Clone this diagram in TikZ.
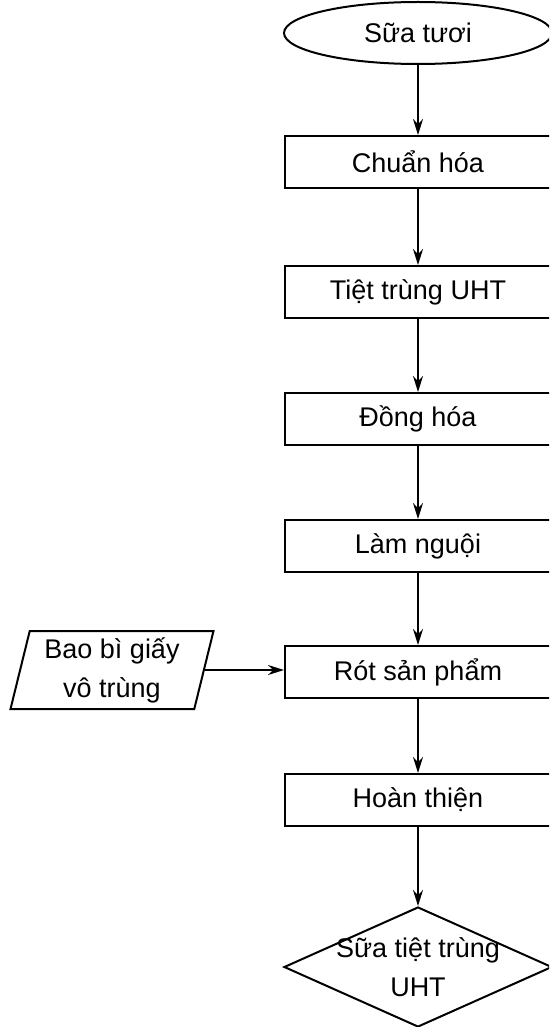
\documentclass[tikz,border=0pt]{standalone}
\usepackage{fontspec}
\setmainfont{Liberation Sans}
\usetikzlibrary{shapes.geometric, arrows.meta}

\begin{document}
\begin{tikzpicture}[x=1pt, y=-1pt,
        font=\fontsize{27}{39}\selectfont,
        stepbox/.style={draw, line width=2pt, minimum width=266pt, minimum height=52pt, inner sep=0pt},
        flow/.style={line width=2pt, -{Stealth[length=16pt, width=10pt]}}]

        % 1. Page frame (the right edges run off the page)
        \useasboundingbox (0,0) rectangle (549,1027);
        \clip (0,0) rectangle (549,1027);

        % 2. Start and end of the line
        \node[draw, ellipse, line width=2pt, minimum width=268pt, minimum height=62pt, inner sep=0pt] (milk) at (418,33) {Sữa tươi};
        \node[draw, diamond, line width=2pt, minimum width=268pt, minimum height=120pt, inner sep=0pt] (product) at (418,967) {};
        \node[align=center, inner sep=0pt] (productText) at (product.center) {Sữa tiệt trùng\\UHT};

        % 3. Process steps
        \node[stepbox] (standard) at (418,162) {Chuẩn hóa};
        \node[stepbox] (uht)      at (418,292) {Tiệt trùng UHT};
        \node[stepbox] (homog)    at (418,419) {Đồng hóa};
        \node[stepbox] (cool)     at (418,546) {Làm nguội};
        \node[stepbox] (fill)     at (418,672) {Rót sản phẩm};
        \node[stepbox] (finish)   at (418,800) {Hoàn thiện};

        % 4. Packaging input
        \node[draw, trapezium, trapezium left angle=73.6, trapezium right angle=106.4,
              trapezium stretches body, line width=2pt, minimum width=203pt, minimum height=78pt,
              inner sep=0pt, align=center] (pack) at (112,670) {Bao bì giấy\\vô trùng};

        % 5. Arrows down the line
        \foreach \from/\to in {milk/standard, standard/uht, uht/homog, homog/cool,
                               cool/fill, fill/finish, finish/product} {
            \draw[flow] (\from) -- (\to);
        }
        \draw[flow] (pack.east) -- (pack.east -| fill.west);

    \end{tikzpicture}
\end{document}
